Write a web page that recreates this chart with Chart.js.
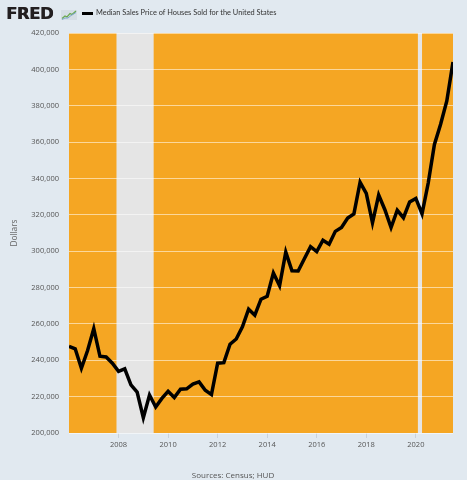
<!DOCTYPE html>
<html>
<head>
<meta charset="utf-8">
<script src="https://cdn.jsdelivr.net/npm/chart.js@4.4.1/dist/chart.umd.min.js"></script>
<style>
  html, body { margin:0; padding:0; background:#E1E9F0; width:467px; height:480px; overflow:hidden; }
  #wrap { position:relative; width:467px; height:480px; }
  #c { position:absolute; left:0; top:0; }
  .logo { position:absolute; left:6px; top:6.8px; line-height:15px; font-family:"DejaVu Sans", sans-serif; font-weight:bold; font-size:15px; color:#231f20; letter-spacing:-0.4px; text-shadow:0.4px 0 0 #231f20; transform:scaleX(1.1); transform-origin:left top; }
  .icon { position:absolute; left:61px; top:10px; }
  .legline { position:absolute; left:82px; top:12.3px; width:11px; height:3px; background:#000; }
  .legtext { position:absolute; left:96px; top:9.3px; line-height:7.3px; font-family:"Lato", sans-serif; font-size:7.4px; color:#333; white-space:nowrap; }
  .src { position:absolute; left:233px; top:474px; font-family:"Open Sans", sans-serif; font-size:8px; color:#555; transform:translate(-50%,-50%); white-space:nowrap; }
</style>
</head>
<body>
<div id="wrap">
  <canvas id="c" width="467" height="480"></canvas>
  <div class="logo">FRED</div>
  <svg class="icon" width="16" height="10" viewBox="0 0 16 10">
    <rect x="0" y="0" width="16" height="10" fill="#d5dde5"/>
    <polyline points="1,8.5 4,6 6,7 9,3.5 11,4.5 15,1" fill="none" stroke="#6aa84f" stroke-width="1.2"/>
    <polyline points="1,9.5 4,8 7,8 10,5.5 15,2.5" fill="none" stroke="#7aa6c8" stroke-width="1"/>
  </svg>
  <div class="legline"></div>
  <div class="legtext">Median Sales Price of Houses Sold for the United States</div>
  <div class="src">Sources: Census; HUD</div>
</div>
<script>
const quarters = [
  "2006-Q1","2006-Q2","2006-Q3","2006-Q4",
  "2007-Q1","2007-Q2","2007-Q3","2007-Q4",
  "2008-Q1","2008-Q2","2008-Q3","2008-Q4",
  "2009-Q1","2009-Q2","2009-Q3","2009-Q4",
  "2010-Q1","2010-Q2","2010-Q3","2010-Q4",
  "2011-Q1","2011-Q2","2011-Q3","2011-Q4",
  "2012-Q1","2012-Q2","2012-Q3","2012-Q4",
  "2013-Q1","2013-Q2","2013-Q3","2013-Q4",
  "2014-Q1","2014-Q2","2014-Q3","2014-Q4",
  "2015-Q1","2015-Q2","2015-Q3","2015-Q4",
  "2016-Q1","2016-Q2","2016-Q3","2016-Q4",
  "2017-Q1","2017-Q2","2017-Q3","2017-Q4",
  "2018-Q1","2018-Q2","2018-Q3","2018-Q4",
  "2019-Q1","2019-Q2","2019-Q3","2019-Q4",
  "2020-Q1","2020-Q2","2020-Q3","2020-Q4",
  "2021-Q1","2021-Q2","2021-Q3"
];
const prices = [
  247700,246300,235600,245400,
  257400,242200,241800,238400,
  233900,235300,226500,222500,
  208400,220900,214300,219000,
  222900,219500,224100,224300,
  226900,228100,223500,221100,
  238400,238700,248800,251700,
  258400,268100,264800,273600,
  275200,288000,281000,299500,
  289200,289100,295800,302500,
  299800,306000,303800,310900,
  313100,318200,320500,337900,
  331800,315600,330900,322800,
  313000,322500,318400,327100,
  329000,320500,337500,358700,
  369800,382600,404000
];
const xTickLabels = [2008, 2010, 2012, 2014, 2016, 2018, 2020];
const yTickValues = [200000,220000,240000,260000,280000,300000,320000,340000,360000,380000,400000,420000];
const recessionStarts = [2007.917, 2020.083];
const recessionEnds   = [2009.417, 2020.25];

function qToYear(q) {
  const [y, qq] = q.split("-Q");
  return parseInt(y, 10) + (parseInt(qq, 10) - 1) / 4;
}
const points = quarters.map((q, i) => ({ x: qToYear(q), y: prices[i] }));

const bgPlugin = {
  id: 'bg',
  beforeDraw(chart) {
    const { ctx, chartArea: a, scales } = chart;
    ctx.save();
    ctx.fillStyle = '#F5A623';
    ctx.fillRect(a.left, a.top, a.right - a.left, a.bottom - a.top);
    ctx.fillStyle = '#E5E5E5';
    for (let i = 0; i < recessionStarts.length; i++) {
      const x0 = Math.max(a.left, scales.x.getPixelForValue(recessionStarts[i]));
      const x1 = Math.min(a.right, scales.x.getPixelForValue(recessionEnds[i]));
      ctx.fillRect(x0, a.top, x1 - x0, a.bottom - a.top);
    }
    ctx.restore();
  }
};

new Chart(document.getElementById('c'), {
  type: 'line',
  data: {
    datasets: [{
      data: points,
      borderColor: '#000',
      borderWidth: 3.5,
      pointRadius: 0,
      tension: 0,
      fill: false
    }]
  },
  options: {
    responsive: false,
    animation: false,
    devicePixelRatio: 1,
    layout: { padding: { top: 33, right: 14, left: 0, bottom: 0 } },
    plugins: { legend: { display: false }, tooltip: { enabled: false } },
    scales: {
      x: {
        type: 'linear',
        min: 2006,
        max: 2021.5,
        afterFit(s) { s.height = 47; },
        afterBuildTicks(s) { s.ticks = xTickLabels.map(v => ({ value: v })); },
        grid: { drawOnChartArea: false, drawTicks: true, tickLength: 5, color: '#c9d2db' },
        border: { display: false },
        ticks: {
          padding: 2,
          maxRotation: 0,
          color: '#555',
          font: { family: 'Open Sans', size: 7.5 },
          callback: v => String(v)
        }
      },
      y: {
        min: 200000,
        max: 420000,
        afterFit(s) { s.width = 69; },
        afterBuildTicks(s) { s.ticks = yTickValues.map(v => ({ value: v })); },
        title: {
          display: true,
          text: 'Dollars',
          color: '#666',
          font: { family: 'Open Sans', size: 8.3 },
          padding: { top: 10, bottom: 0 }
        },
        grid: { color: 'rgba(255,255,255,0.55)', lineWidth: 1, drawTicks: false },
        border: { display: false },
        ticks: {
          padding: 10,
          color: '#555',
          font: { family: 'Open Sans', size: 7.5 },
          callback: v => v.toLocaleString('en-US')
        }
      }
    }
  },
  plugins: [bgPlugin]
});
</script>
</body>
</html>
